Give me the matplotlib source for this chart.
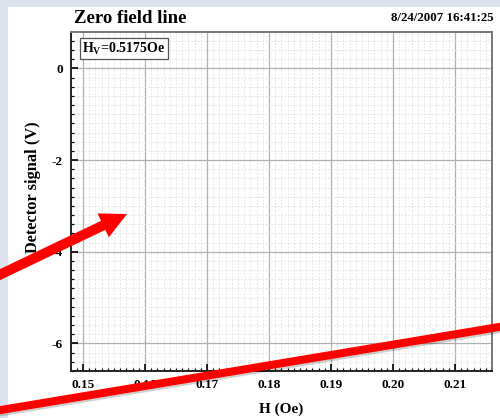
import matplotlib
matplotlib.use("Agg")
import matplotlib.pyplot as plt
import matplotlib.patheffects as pe
from matplotlib.patches import Rectangle
from matplotlib.lines import Line2D
from matplotlib.ticker import MultipleLocator, FixedLocator

# ---- data / text ----
title = "Zero field line"
timestamp = "8/24/2007 16:41:25"
box_label = "H$_{\\rm V}$=0.5175Oe"
x_label = "H (Oe)"
y_label = "Detector signal (V)"
x_ticks = [0.15, 0.16, 0.17, 0.18, 0.19, 0.20, 0.21]
x_tick_labels = ["0.15", "0.16", "0.17", "0.18", "0.19", "0.20", "0.21"]
y_ticks = [0, -2, -4, -6]
y_tick_labels = ["0", "-2", "-4", "-6"]
x_range = (0.14806, 0.21597)
y_range = (-6.6, 0.796)

# annotation overlay (figure pixels, origin top-left of picture)
red_line_px = [(-5, 411), (505, 326)]
red_arrow_px = [(-5, 277), (127, 214)]

W, H = 500, 418
plt.rcParams['font.family'] = ['Liberation Serif', 'DejaVu Serif']
plt.rcParams['font.weight'] = 'bold'
plt.rcParams['mathtext.fontset'] = 'custom'
plt.rcParams['mathtext.rm'] = 'Liberation Serif:bold'
plt.rcParams['mathtext.it'] = 'Liberation Serif:bold'
plt.rcParams['mathtext.bf'] = 'Liberation Serif:bold'

fig = plt.figure(figsize=(W / 100, H / 100), dpi=100, facecolor='#dde3ee')
fig.add_artist(Rectangle((8 / W, 0), 1, 1 - 7 / H, transform=fig.transFigure,
                         facecolor='white', edgecolor='none', zorder=-10))

left, right, top, bottom = 71, 492, 32, 371
ax = fig.add_axes([left / W, 1 - bottom / H, (right - left) / W, (bottom - top) / H])
ax.set_facecolor('white')
ax.set_xlim(*x_range)
ax.set_ylim(*y_range)

ax.xaxis.set_major_locator(FixedLocator(x_ticks))
ax.set_xticklabels(x_tick_labels)
ax.yaxis.set_major_locator(FixedLocator(y_ticks))
ax.set_yticklabels(y_tick_labels)
ax.xaxis.set_minor_locator(MultipleLocator(0.001))
ax.yaxis.set_minor_locator(MultipleLocator(0.2))

ax.tick_params(which='both', direction='in', top=False, right=False, colors='black')
ax.tick_params(which='major', length=5, width=1.2, labelsize=9.5, pad=6)
ax.tick_params(which='minor', length=2.5, width=0.9)
for lbl in ax.get_xticklabels() + ax.get_yticklabels():
    lbl.set_fontweight('bold')

ax.grid(which='major', color='#b0b0b0', linewidth=0.9, linestyle='-')
ax.grid(which='minor', color='#dedede', linewidth=0.6, linestyle=(0, (2, 2)))
ax.set_axisbelow(True)

for s in ['left', 'bottom']:
    ax.spines[s].set_color('#222222')
    ax.spines[s].set_linewidth(1.4)
for s in ['top', 'right']:
    ax.spines[s].set_color('#777777')
    ax.spines[s].set_linewidth(1.4)

ax.set_xlabel(x_label, fontsize=11, fontweight='bold')
ax.set_ylabel(y_label, fontsize=11.8, fontweight='bold')
ax.xaxis.set_label_coords(0.5, -0.093)
ax.yaxis.set_label_coords(-0.072, 0.543)

fig.text(74 / W, 1 - 23 / H, title, fontsize=13.5, fontweight='bold', ha='left', va='baseline')
fig.text(494 / W, 1 - 21 / H, timestamp, fontsize=9.3, fontweight='bold', ha='right', va='baseline')

ax.text(0.027, 0.975, box_label, transform=ax.transAxes, fontsize=10, fontweight='bold',
        ha='left', va='top',
        bbox=dict(boxstyle='square,pad=0.2', facecolor='white', edgecolor='#555555', linewidth=0.9))

# red overlay line with subtle shadow
(x0, y0), (x1, y1) = red_line_px
line = Line2D([x0 / W, x1 / W], [1 - y0 / H, 1 - y1 / H], transform=fig.transFigure,
              color='#ff0000', linewidth=5.8, solid_capstyle='butt', zorder=20,
              path_effects=[pe.SimpleLineShadow(offset=(1, -1.5), shadow_color='black', alpha=0.18),
                            pe.Normal()])
fig.add_artist(line)

# red overlay arrow
(ax0, ay0), (ax1, ay1) = red_arrow_px
ax.annotate('', xy=(ax1, H - ay1), xytext=(ax0, H - ay0),
            xycoords='figure pixels', textcoords='figure pixels',
            annotation_clip=False, zorder=20,
            arrowprops=dict(arrowstyle='simple,head_length=0.95,head_width=0.95,tail_width=0.36',
                            mutation_scale=20, color='#ff0000', shrinkA=0, shrinkB=0,
                            linewidth=0))

fig.savefig('out.png', dpi=100, facecolor=fig.get_facecolor())
